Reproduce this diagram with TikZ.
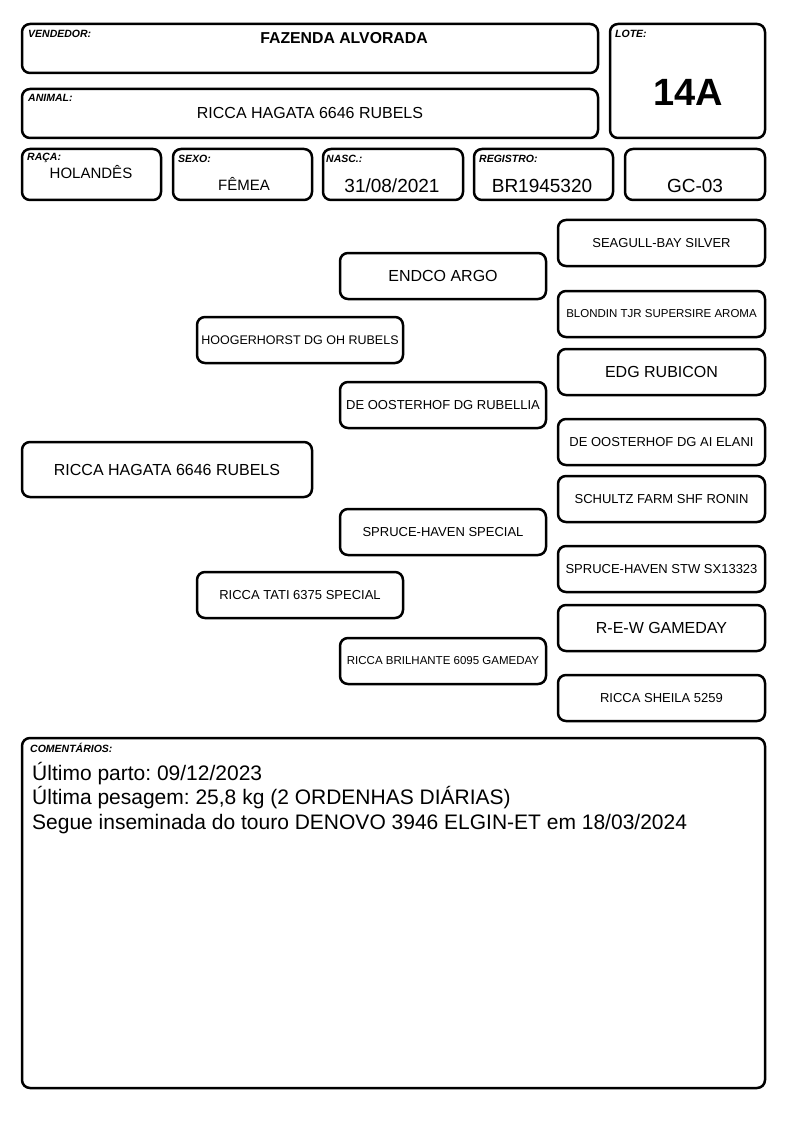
\documentclass[tikz,border=0pt]{standalone}
\usepackage{fontspec}
\setmainfont{Liberation Sans}
\usepackage{tikz}
\usetikzlibrary{positioning,calc}
\frenchspacing

\begin{document}
\begin{tikzpicture}[
		x=1pt, y=-1pt,
		box/.style={draw, rounded corners=8pt, line width=2.5pt, inner sep=0pt},
		pbox/.style={box, minimum width=206pt, minimum height=46pt},
		lbl/.style={font=\fontsize{10.5}{11}\selectfont\bfseries\itshape, inner sep=0pt, anchor=north west},
		val/.style={font=\fontsize{16}{18}\selectfont, inner sep=0pt},
		]
		\useasboundingbox (0,0) rectangle (794,1123);
		
		% cabecalho
		\node[box, minimum width=576pt, minimum height=49pt] (vend) at (310, 48.5) {};
		\node[box, minimum width=155pt, minimum height=114pt] (lote) at (687.5, 81) {};
		\node[box, minimum width=576pt, minimum height=49pt] (anim) at (310, 113.5) {};
		\node[box, minimum width=139pt, minimum height=51pt] (raca) at (91.5, 174.5) {};
		\node[box, minimum width=139pt, minimum height=51pt] (sexo) at (242.5, 174.5) {};
		\node[box, minimum width=140pt, minimum height=51pt] (nasc) at (393, 174.5) {};
		\node[box, minimum width=139pt, minimum height=51pt] (reg) at (543.5, 174.5) {};
		\node[box, minimum width=140pt, minimum height=51pt] (gc) at (695, 174.5) {};
		
		\node[lbl] (vendl) at (28, 30) {VENDEDOR:};
		\node[lbl] (lotel) at (615, 30) {LOTE:};
		\node[lbl] (animl) at (28, 94) {ANIMAL:};
		\node[lbl] (racal) at (27, 153) {RAÇA:};
		\node[lbl] (sexol) at (178, 155) {SEXO:};
		\node[lbl] (nascl) at (326, 155) {NASC.:};
		\node[lbl] (regl) at (479, 155) {REGISTRO:};
		
		\node[val, font=\fontsize{15.8}{17}\selectfont\bfseries] (vendv) at (344, 38) {FAZENDA ALVORADA};
		\node[val, font=\fontsize{38}{40}\selectfont\bfseries] (lotev) at (688, 92) {14A};
		\node[val] (animv) at (310, 113) {RICCA HAGATA 6646 RUBELS};
		\node[val, font=\fontsize{15}{17}\selectfont] (racav) at (91, 172) {HOLANDÊS};
		\node[val, font=\fontsize{15}{17}\selectfont] (sexov) at (244, 184) {FÊMEA};
		\node[val, font=\fontsize{19}{21}\selectfont] (nascv) at (392, 186) {31/08/2021};
		\node[val, font=\fontsize{19}{21}\selectfont] (regv) at (542, 186) {BR1945320};
		\node[val, font=\fontsize{19}{21}\selectfont] (gcv) at (695, 186) {GC-03};
		
		% genealogia
		\node[box, minimum width=290pt, minimum height=55pt, font=\fontsize{16}{18}\selectfont] (g1) at (167, 469.5) {RICCA HAGATA 6646 RUBELS};
		
		\node[pbox, font=\fontsize{12.5}{14}\selectfont] (g21) at (300, 340) {HOOGERHORST DG OH RUBELS};
		\node[pbox, font=\fontsize{13}{14}\selectfont] (g22) at (300, 595) {RICCA TATI 6375 SPECIAL};
		
		\node[pbox, font=\fontsize{16}{18}\selectfont] (g31) at (443, 276) {ENDCO ARGO};
		\node[pbox, font=\fontsize{13}{14}\selectfont] (g32) at (443, 405) {DE OOSTERHOF DG RUBELLIA};
		\node[pbox, font=\fontsize{13}{14}\selectfont] (g33) at (443, 532) {SPRUCE-HAVEN SPECIAL};
		\node[pbox, font=\fontsize{11.5}{13}\selectfont] (g34) at (443, 661) {RICCA BRILHANTE 6095 GAMEDAY};
		
		\foreach \y/\t/\s [count=\i from 1] in {243/SEAGULL-BAY SILVER/13, 314/BLONDIN TJR SUPERSIRE AROMA/11.5,
			372/EDG RUBICON/16, 442/DE OOSTERHOF DG AI ELANI/13, 499/SCHULTZ FARM SHF RONIN/13,
			569/SPRUCE-HAVEN STW SX13323/13, 628/R-E-W GAMEDAY/16, 698/RICCA SHEILA 5259/13}
			\node[pbox, minimum width=207pt, font=\fontsize{\s}{14}\selectfont] (g4\i) at (661.5, \y) {\t};
		
		% comentarios
		\node[box, minimum width=743pt, minimum height=350pt] (com) at (393.5, 913) {};
		\node[lbl] (coml) at (30, 743) {COMENTÁRIOS:};
		\node[inner sep=0pt, anchor=north west, align=left, font=\fontsize{21}{24.5}\selectfont] (comv) at (32, 762)
			{Último parto: 09/12/2023\\
			Última pesagem: 25,8 kg (2 ORDENHAS DIÁRIAS)\\
			Segue inseminada do touro DENOVO 3946 ELGIN-ET em 18/03/2024};
		\end{tikzpicture}
\end{document}
